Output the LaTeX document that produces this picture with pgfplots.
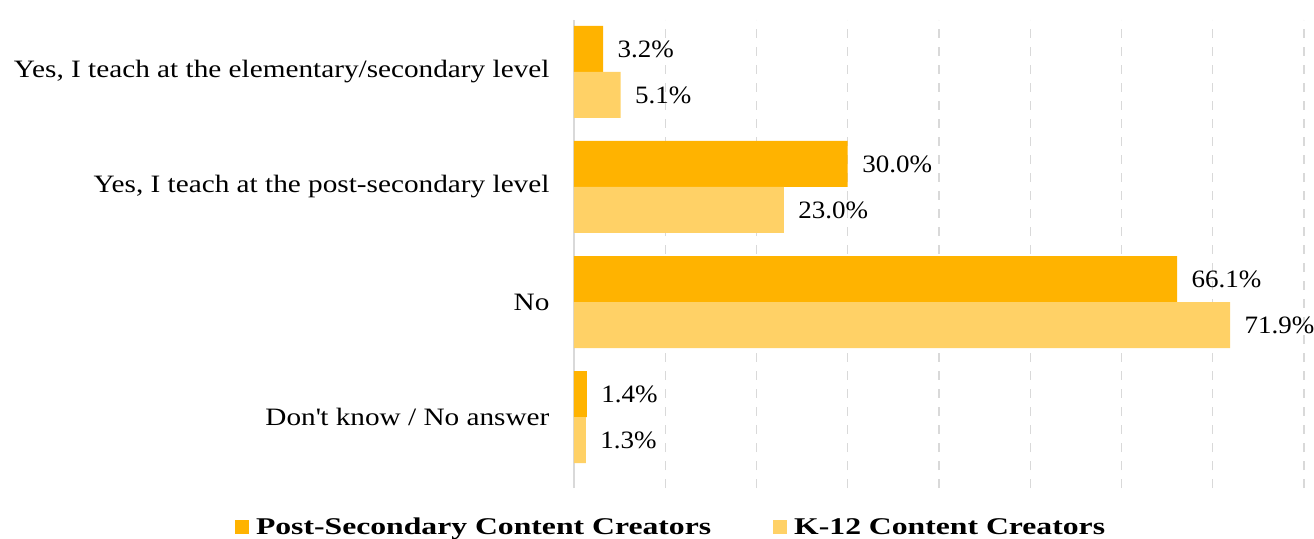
\documentclass[border=0pt]{standalone}
\usepackage{pgfplots}
\pgfplotsset{compat=1.18}
\usepackage{fontspec}
\setmainfont{Liberation Serif}[FakeStretch=1.17]
\newfontfamily\legfont{Liberation Serif}[FakeStretch=1.32]
\newfontfamily\labfont{Liberation Serif}[FakeStretch=1.08]
\definecolor{darkY}{RGB}{255,179,0}
\definecolor{lightY}{RGB}{255,209,102}
\begin{document}
\begin{tikzpicture}
\path[use as bounding box] (-574pt,-50pt) rectangle (740pt,488pt);
\begin{axis}[
  at={(0pt,0pt)}, anchor=south west,
  scale only axis, width=730pt, height=468pt,
  xbar, bar width=46pt,
  xmin=0, xmax=80, ymin=-0.617, ymax=3.452,
  xtick={0,10,...,80}, xticklabels={},
  ytick={0,1,2,3},
  yticklabels={{Don\textquotesingle t know / No answer},{No},{Yes, I teach at the post-secondary level},{Yes, I teach at the elementary/secondary level}},
  major tick length=0pt,
  yticklabel style={font=\fontsize{25}{28}\selectfont, xshift=-21pt},
  xmajorgrids, grid style={gray!30, line width=1.4pt, dash pattern=on 9pt off 9pt},
  axis lines*=left,
  x axis line style={draw=none},
  y axis line style={draw=gray!30, line width=1.5pt},
  nodes near coords={\pgfmathprintnumber[fixed,fixed zerofill,precision=1,assume math mode=true]{\pgfplotspointmeta}\%},
  nodes near coords align={horizontal},
  every node near coord/.append style={font=\labfont\fontsize{25}{28}\selectfont, black, xshift=11pt},
  legend style={at={(axis description cs:0.133,-0.083)}, anchor=center, draw=none, legend columns=2,
    font=\legfont\bfseries\fontsize{24}{28}\selectfont,
    /tikz/every even column/.append style={column sep=60pt}},
  legend image code/.code={\fill[#1,draw=none] (0pt,-7pt) rectangle (14pt,7pt); \path (19pt,0pt);},
]
\addplot[fill=darkY, draw=none, bar shift=23pt] coordinates {(3.2,3) (30.0,2) (66.1,1) (1.4,0)};
\addplot[fill=lightY, draw=none, bar shift=-23pt] coordinates {(5.1,3) (23.0,2) (71.9,1) (1.3,0)};
\legend{Post-Secondary Content Creators, K-12 Content Creators}
\end{axis}
\end{tikzpicture}
\end{document}
